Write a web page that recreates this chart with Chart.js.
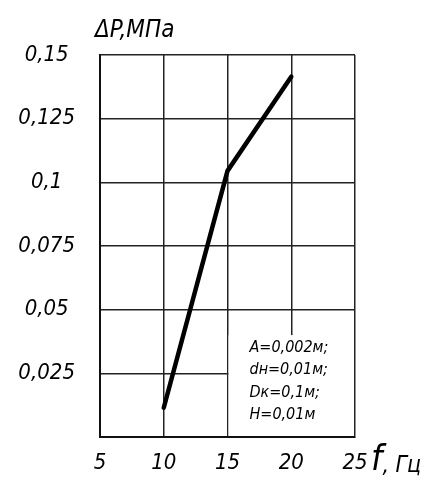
<!DOCTYPE html>
<html>
<head>
<meta charset="utf-8">
<script src="https://cdn.jsdelivr.net/npm/chart.js@4/dist/chart.umd.min.js"></script>
<style>
  html, body { margin: 0; padding: 0; background: #fff; }
  canvas { display: block; }
</style>
</head>
<body>
<canvas id="c" width="425" height="477"></canvas>
<script>
// Frequency, Hz
const freq = [10, 15, 20];
// Pressure drop, MPa
const pressure = [0.0115, 0.1045, 0.1415];
// Axis tick labels (decimal comma)
const xTickLabels = ['5', '10', '15', '20', '25'];
const yTickLabels = ['', '0,025', '0,05', '0,075', '0,1', '0,125', '0,15'];
// Parameter block text
const paramLines = ['A=0,002м;', 'dн=0,01м;', 'Dк=0,1м;', 'H=0,01м'];

const FONT = "'DejaVu Sans Condensed', 'Liberation Sans Narrow', sans-serif";

const overlay = {
  id: 'overlay',
  beforeDatasetsDraw(chart) {
    const { ctx, scales: { x, y } } = chart;
    // blank the grid behind the parameter block
    const x0 = x.getPixelForValue(15) + 1;
    const x1 = x.getPixelForValue(25) - 1;
    const y0 = y.getPixelForValue(0.04);
    const y1 = y.getPixelForValue(0) - 1;
    ctx.save();
    ctx.fillStyle = '#fff';
    ctx.fillRect(x0, y0, x1 - x0, y1 - y0);
    ctx.restore();
  },
  afterDraw(chart) {
    const { ctx, chartArea, scales: { x, y } } = chart;
    ctx.save();
    ctx.fillStyle = '#000';
    ctx.textBaseline = 'alphabetic';
    ctx.textAlign = 'left';
    // y-axis title
    ctx.font = 'italic 24px ' + FONT;
    ctx.fillText('ΔP,МПа', chartArea.left - 5, chartArea.top - 18);
    // x-axis title
    ctx.font = 'italic 36px ' + FONT;
    ctx.fillText('f', chartArea.right + 16, chartArea.bottom + 33);
    const fw = ctx.measureText('f').width;
    ctx.font = 'italic 23px ' + FONT;
    ctx.fillText(', Гц', chartArea.right + 16 + fw, chartArea.bottom + 35);
    // parameter block
    ctx.font = 'italic 16px ' + FONT;
    const tx = x.getPixelForValue(15) + 22;
    const ty = y.getPixelForValue(0) - 85;
    paramLines.forEach((s, i) => ctx.fillText(s, tx, ty + i * 22.3));
    ctx.restore();
  }
};

new Chart(document.getElementById('c'), {
  type: 'line',
  data: {
    datasets: [{
      data: freq.map((f, i) => ({ x: f, y: pressure[i] })),
      borderColor: '#000',
      borderWidth: 4.5,
      borderCapStyle: 'round',
      borderJoinStyle: 'round',
      pointRadius: 0,
      tension: 0,
      fill: false
    }]
  },
  options: {
    responsive: false,
    animation: false,
    devicePixelRatio: 1,
    layout: { padding: { top: 55, right: 70, left: 0, bottom: 0 } },
    plugins: { legend: { display: false }, tooltip: { enabled: false } },
    scales: {
      x: {
        type: 'linear',
        min: 5, max: 25,
        afterFit(s) { s.height = 40; },
        afterBuildTicks(s) { s.ticks = xTickLabels.map((_, i) => ({ value: 5 + 5 * i })); },
        ticks: {
          color: '#000',
          padding: 13,
          maxRotation: 0,
          font: { family: FONT, size: 22, style: 'italic' },
          callback: (v, i) => xTickLabels[i]
        },
        grid: { color: '#222', lineWidth: 1.5, drawTicks: false },
        border: { color: '#111', width: 2 }
      },
      y: {
        type: 'linear',
        min: 0, max: 0.15,
        afterFit(s) { s.width = 100; },
        afterBuildTicks(s) { s.ticks = yTickLabels.map((_, i) => ({ value: 0.025 * i })); },
        ticks: {
          color: '#000',
          padding: 25,
          crossAlign: 'center',
          font: { family: FONT, size: 22, style: 'italic' },
          callback: (v, i) => yTickLabels[i]
        },
        grid: { color: '#222', lineWidth: 1.5, drawTicks: false },
        border: { color: '#111', width: 2 }
      }
    }
  },
  plugins: [overlay]
});
</script>
</body>
</html>
